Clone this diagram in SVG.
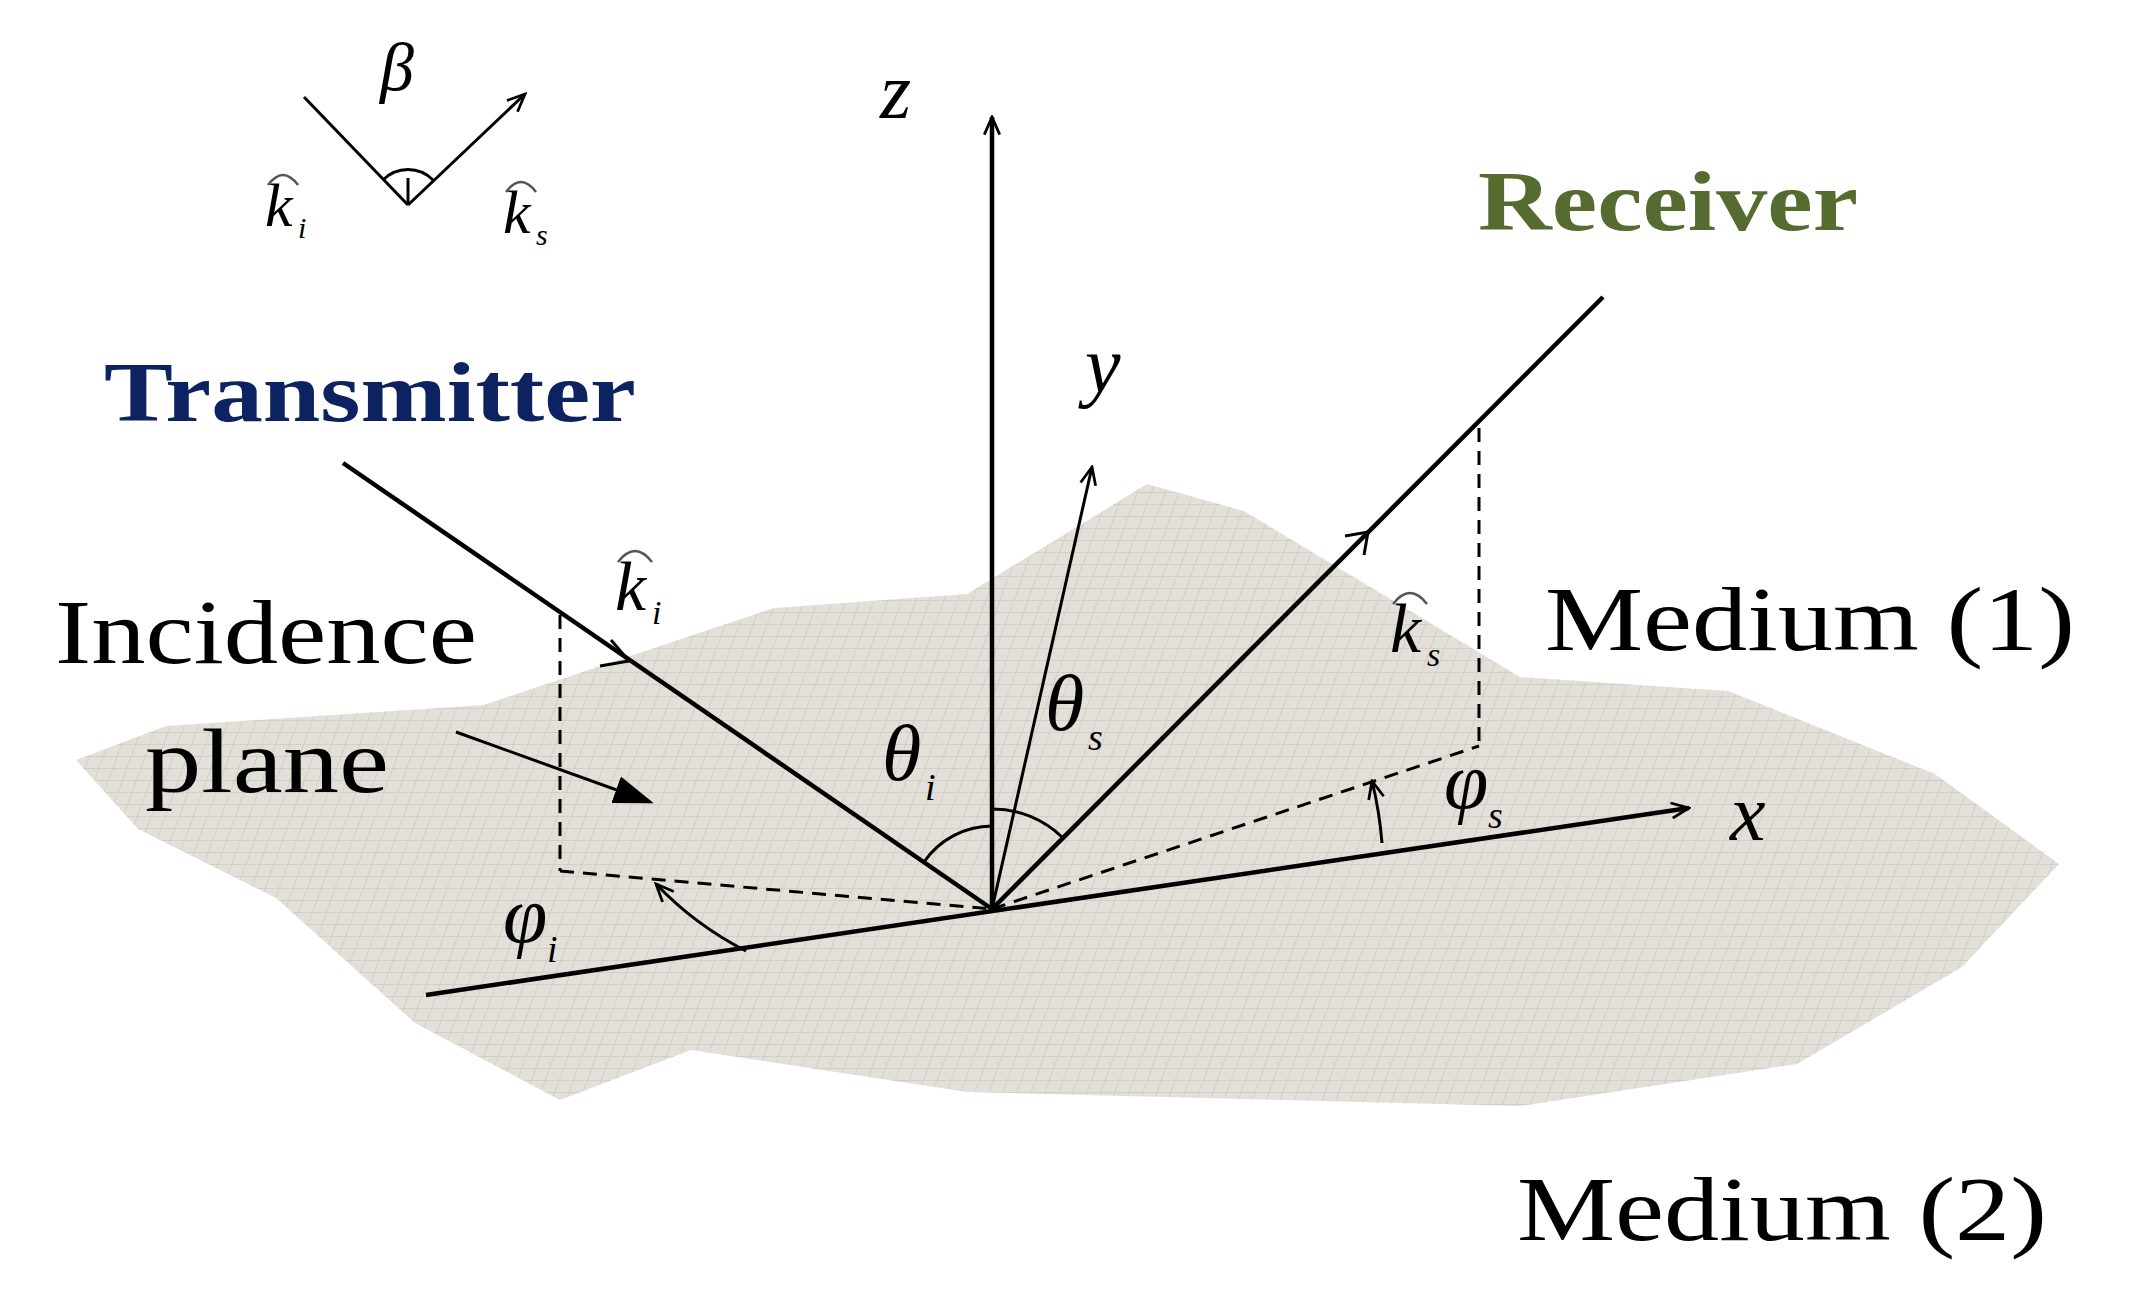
<svg xmlns="http://www.w3.org/2000/svg" width="2135" height="1296" viewBox="0 0 2135 1296">
<defs>
<style>
.ln{stroke:#000;stroke-width:4.5;fill:none}
.th{stroke:#000;stroke-width:3;fill:none}
.hat{stroke:#555;stroke-width:2.5;fill:none}
.ds{stroke:#000;stroke-width:3;fill:none;stroke-dasharray:14 9}
.sf{font-family:"Liberation Serif",serif}
.it{font-family:"Liberation Serif",serif;font-style:italic}
</style>
<marker id="vs" viewBox="0 0 20 20" refX="18" refY="10" markerWidth="22" markerHeight="22" orient="auto" markerUnits="userSpaceOnUse">
<polyline points="2,3 18,10 2,17" fill="none" stroke="#000" stroke-width="2.5"/>
</marker>
<marker id="fill" viewBox="0 0 20 20" refX="18" refY="10" markerWidth="40" markerHeight="40" orient="auto" markerUnits="userSpaceOnUse">
<polygon points="0,3 20,10 0,17" fill="#000"/>
</marker>
<pattern id="mesh" width="14" height="12" patternUnits="userSpaceOnUse" patternTransform="skewX(-20)">
<rect width="14" height="12" fill="#e3e0da"/>
<path d="M0 0H14M0 0V12" stroke="#cdc9c1" stroke-width="1.5"/>
</pattern>
</defs>
<rect width="2135" height="1296" fill="#fff"/>
<g id="surface">
<path d="M76,760 L166,726 L484,705 L774,608 L967,594 L1147,484 L1244,511 L1382,594 L1520,677 L1728,691 L1935,774 L2059,864 L1962,967 L1797,1064 L1520,1106 L967,1092 L691,1050 L560,1100 L415,1023 L276,898 L138,829 Z" fill="url(#mesh)"/>
</g>
<g id="connectors">
<line class="ln" x1="992" y1="909" x2="992" y2="117" marker-end="url(#vs)"/>
<line class="th" x1="992" y1="909" x2="1092" y2="467" marker-end="url(#vs)"/>
<line class="ln" x1="426" y1="995" x2="1689" y2="808" marker-end="url(#vs)"/>
<line class="ln" x1="343" y1="463" x2="992" y2="909"/>
<line class="ln" x1="992" y1="909" x2="1603" y2="297"/>
<polyline class="th" points="611,640 629,661 600,666"/>
<polyline class="th" points="1345,536 1368,532 1364,555"/>
<line class="ds" x1="560" y1="615" x2="560" y2="871"/>
<line class="ds" x1="560" y1="871" x2="992" y2="909"/>
<line class="ds" x1="1479" y1="428" x2="1479" y2="746"/>
<line class="ds" x1="992" y1="909" x2="1479" y2="746"/>
<path class="th" d="M924,862 A83,83 0 0 1 992,826"/>
<path class="th" d="M992,809 A100,100 0 0 1 1063,838"/>
<path class="th" d="M746,951 A335,335 0 0 1 656,884" marker-end="url(#vs)"/>
<path class="th" d="M1382,843 A390,390 0 0 0 1372,781" marker-end="url(#vs)"/>
<line class="th" x1="456" y1="732" x2="650" y2="802" marker-end="url(#fill)"/>
</g>
<g id="inset">
<line class="th" x1="304" y1="97" x2="408" y2="205"/>
<line class="th" x1="408" y1="205" x2="525" y2="94" marker-end="url(#vs)"/>
<line class="th" x1="408" y1="178" x2="408" y2="205"/>
<path class="th" d="M383,180 A35,35 0 0 1 433,180"/>
<text class="it" x="380" y="90" font-size="68">β</text>
<text class="it" x="265" y="226" font-size="62">k</text><text class="it" x="298" y="238" font-size="30">i</text>
<path class="hat" d="M268,185 Q283,165 298,185"/>
<text class="it" x="503" y="233" font-size="62">k</text><text class="it" x="536" y="245" font-size="30">s</text>
<path class="hat" d="M506,192 Q521,172 536,192"/>
</g>
<g id="labels">
<text class="it" x="880" y="118" font-size="80">z</text>
<text class="it" x="1085" y="392" font-size="80">y</text>
<text class="it" x="1730" y="840" font-size="80">x</text>
<text x="104" y="421" font-size="84" font-weight="bold" fill="#0d2260" font-family="Liberation Serif,serif" textLength="532" lengthAdjust="spacingAndGlyphs">Transmitter</text>
<text x="1478" y="230" font-size="84" font-weight="bold" fill="#556b2f" font-family="Liberation Serif,serif" textLength="380" lengthAdjust="spacingAndGlyphs">Receiver</text>
<text class="sf" x="55" y="663" font-size="92" textLength="422" lengthAdjust="spacingAndGlyphs">Incidence</text>
<text class="sf" x="145" y="792" font-size="92" textLength="244" lengthAdjust="spacingAndGlyphs">plane</text>
<text class="sf" x="1545" y="650" font-size="92" textLength="530" lengthAdjust="spacingAndGlyphs">Medium (1)</text>
<text class="sf" x="1517" y="1240" font-size="92" textLength="530" lengthAdjust="spacingAndGlyphs">Medium (2)</text>
<text class="it" x="882" y="780" font-size="80">θ</text><text class="it" x="925" y="800" font-size="38">i</text>
<text class="it" x="1045" y="730" font-size="80">θ</text><text class="it" x="1088" y="750" font-size="38">s</text>
<text class="it" x="503" y="942" font-size="80">φ</text><text class="it" x="547" y="962" font-size="38">i</text>
<text class="it" x="1444" y="808" font-size="80">φ</text><text class="it" x="1488" y="828" font-size="38">s</text>
<text class="it" x="615" y="610" font-size="70">k</text><text class="it" x="652" y="624" font-size="34">i</text>
<path class="hat" d="M618,562 Q635,540 652,562"/>
<text class="it" x="1390" y="652" font-size="70">k</text><text class="it" x="1427" y="666" font-size="34">s</text>
<path class="hat" d="M1393,604 Q1410,582 1427,604"/>
</g>
</svg>
